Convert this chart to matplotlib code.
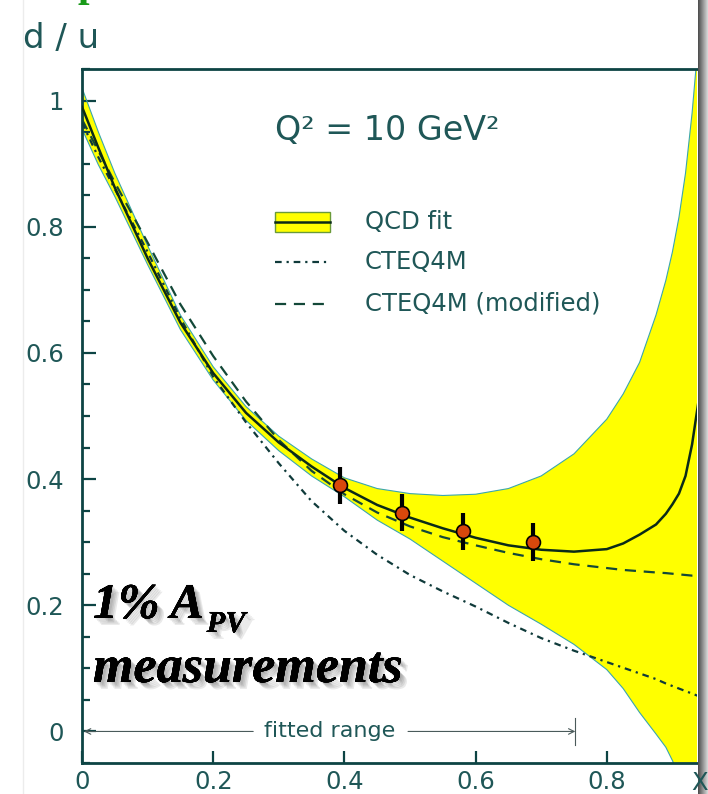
import numpy as np
import matplotlib
matplotlib.use('Agg')
import matplotlib.pyplot as plt
import matplotlib.patheffects as pe
from matplotlib.lines import Line2D
from matplotlib.patches import Rectangle

# d/u curves
x_grid = [0, .025, .05, .1, .15, .2, .25, .3, .35, .4, .45, .5, .55, .6, .65, .7,
          .75, .8, .825, .85, .875, .89, .9, .91, .92, .93, .94]
qcd_fit = [.99, .925, .862, .75, .648, .568, .505, .458, .42, .386, .359, .339, .322,
           .307, .295, .288, .285, .289, .298, .312, .328, .345, .36, .377, .405, .455, .525]
band_hi = [1.02, .95, .885, .77, .66, .578, .515, .468, .432, .402, .385, .377, .374,
           .376, .385, .405, .44, .495, .535, .585, .66, .715, .76, .815, .885, .98, 1.1]
band_lo = [.955, .898, .848, .74, .637, .557, .493, .445, .405, .372, .335, .305, .27,
           .235, .2, .17, .138, .098, .068, .03, -.004, -.025, -.046, -.07, -.1, -.13, -.16]
cteq4m = [.965, .91, .86, .76, .655, .562, .49, .425, .365, .318, .28, .248, .222,
          .198, .172, .148, .128, .11, .101, .092, .083, .076, .072, .068, .064, .06, .056]
cteq4m_mod = [.97, .92, .87, .775, .677, .595, .523, .462, .413, .376, .347, .325, .308,
              .295, .283, .273, .265, .259, .256, .254, .252, .251, .25, .249, .248, .247, .247]

# projected A_PV points
x_pts = [0.393, 0.488, 0.581, 0.688]
y_pts = [0.390, 0.347, 0.317, 0.300]
y_err = [0.029, 0.030, 0.030, 0.030]

y_ticks = [0, 0.2, 0.4, 0.6, 0.8, 1]
y_labels = ['0', '0.2', '0.4', '0.6', '0.8', '1']
x_ticks = [0, 0.2, 0.4, 0.6, 0.8]
x_labels = ['0', '0.2', '0.4', '0.6', '0.8']

W, H = 708, 794
teal = '#0d4444'
lab = '#1f5757'


def fx(px):
    return px / W


def fy(py):
    return 1 - py / H


fig = plt.figure(figsize=(W / 100, H / 100), dpi=100)
ax = fig.add_axes([fx(82), fy(763), fx(697) - fx(82), fy(69) - fy(763)])

ax.fill_between(x_grid, band_lo, band_hi, color='#ffff00', lw=0, zorder=1)
ax.plot(x_grid, band_lo, color='#3aa6ae', lw=0.8, zorder=2)
ax.plot(x_grid, band_hi, color='#3aa6ae', lw=0.8, zorder=2)
ax.plot(x_grid, qcd_fit, color='#0a2a18', lw=1.8, zorder=4)
ax.plot(x_grid, cteq4m_mod, color='#134838', lw=1.6, dashes=(5, 3.5), zorder=3)
ax.plot(x_grid, cteq4m, color='#0f3a3a', lw=1.6, dashes=(3, 2.2, 1, 2.2), zorder=3)

ax.errorbar(x_pts, y_pts, yerr=y_err, fmt='o', color='black', ecolor='black',
            elinewidth=3, capsize=0, mfc='#d9480c', mec='black', ms=10, mew=1.2,
            zorder=6)

# fitted range arrow
arr = dict(arrowstyle='->', color='#4a5a5a', lw=0.8, shrinkA=0, shrinkB=0)
ax.annotate('', xy=(0.003, 0), xytext=(0.261, 0), arrowprops=arr)
ax.annotate('', xy=(0.752, 0), xytext=(0.497, 0), arrowprops=arr)
ax.plot([0.752, 0.752], [-0.022, 0.022], color='#4a5a5a', lw=0.8)
ax.text(0.378, 0.0, 'fitted range', ha='center', va='center', fontsize=16, color=lab)

ax.set_xlim(0, 0.9375)
ax.set_ylim(-0.0457, 1.049)
ax.set_yticks(y_ticks)
ax.set_yticklabels(y_labels)
ax.set_yticks(np.arange(-0.05, 1.0501, 0.05), minor=True)
ax.set_xticks(x_ticks)
ax.set_xticklabels(x_labels)
ax.tick_params(axis='y', which='major', direction='in', length=10, width=1.6,
               color=teal, labelsize=17.5, labelcolor=lab, pad=13)
ax.tick_params(axis='y', which='minor', direction='in', length=5.5, width=1.6, color=teal)
ax.tick_params(axis='x', which='major', direction='in', length=9, width=1.6,
               color=teal, labelsize=17.5, labelcolor=lab, pad=5)
for s in ['left', 'top', 'bottom']:
    ax.spines[s].set_color(teal)
    ax.spines[s].set_linewidth(2)
ax.spines['right'].set_visible(False)

# legend drawn by hand
lx0, lx1 = fx(275), fx(330)
fig.add_artist(Rectangle((lx0, fy(232)), lx1 - lx0, fy(212) - fy(232),
                         transform=fig.transFigure, fc='#ffff00', ec='#6a9a3a', lw=1))
fig.add_artist(Line2D([lx0, lx1], [fy(222), fy(222)], transform=fig.transFigure,
                      color='#0a2a18', lw=1.8))
fig.add_artist(Line2D([lx0, lx1], [fy(262), fy(262)], transform=fig.transFigure,
                      color='#0f3a3a', lw=1.6, dashes=(3, 2.2, 1, 2.2)))
fig.add_artist(Line2D([lx0, lx1], [fy(304), fy(304)], transform=fig.transFigure,
                      color='#134838', lw=1.6, dashes=(5, 3.5)))
for py, txt in [(222, 'QCD fit'), (262, 'CTEQ4M'), (304, 'CTEQ4M (modified)')]:
    fig.text(fx(365), fy(py), txt, ha='left', va='center', fontsize=17.5, color=lab)

fig.text(fx(275), fy(130), 'Q² = 10 GeV²', ha='left', va='center', fontsize=24, color=lab)
fig.text(fx(23), fy(48), 'd / u', ha='left', va='baseline', fontsize=24.5, color=lab)
fig.text(fx(700), fy(790), 'X', ha='center', va='baseline', fontsize=17.5, color=lab)

# slide overlay text, soft shadow built from a few faint offset copies
shadow = [pe.withSimplePatchShadow(offset=(d, -d), shadow_rgbFace='#333333', alpha=0.1)
          for d in (1, 2, 3, 4, 5)] + [pe.Normal()]
serif = dict(family='Liberation Serif', weight='bold', style='italic', color='black',
             path_effects=shadow)
t1 = fig.text(fx(93), fy(618), '1% A', ha='left', va='baseline', fontsize=36, **serif)
fig.canvas.draw()
bb = t1.get_window_extent()
fig.text((bb.x1 + 3) / W, fy(632), 'PV', ha='left', va='baseline', fontsize=22, **serif)
fig.text(fx(93), fy(682), 'measurements', ha='left', va='baseline', fontsize=37.5, **serif)

# bits of the slide: cut title letter, left edge, right shadow
fig.text(fx(78), fy(-4), 'p', ha='left', va='baseline', fontsize=30,
         family='Liberation Serif', weight='bold', color='#1a9a1a')
fig.add_artist(Line2D([fx(23), fx(23)], [0, 1], transform=fig.transFigure,
                      color='#ececec', lw=1))
sh = fig.add_axes([fx(698), 0, 1 - fx(698), 1])
sh.imshow(np.linspace(0.3, 0.85, 20)[None, :], cmap='gray', vmin=0, vmax=1,
          aspect='auto', extent=[0, 1, 0, 1])
sh.set_axis_off()

fig.savefig('out.png', dpi=100)
